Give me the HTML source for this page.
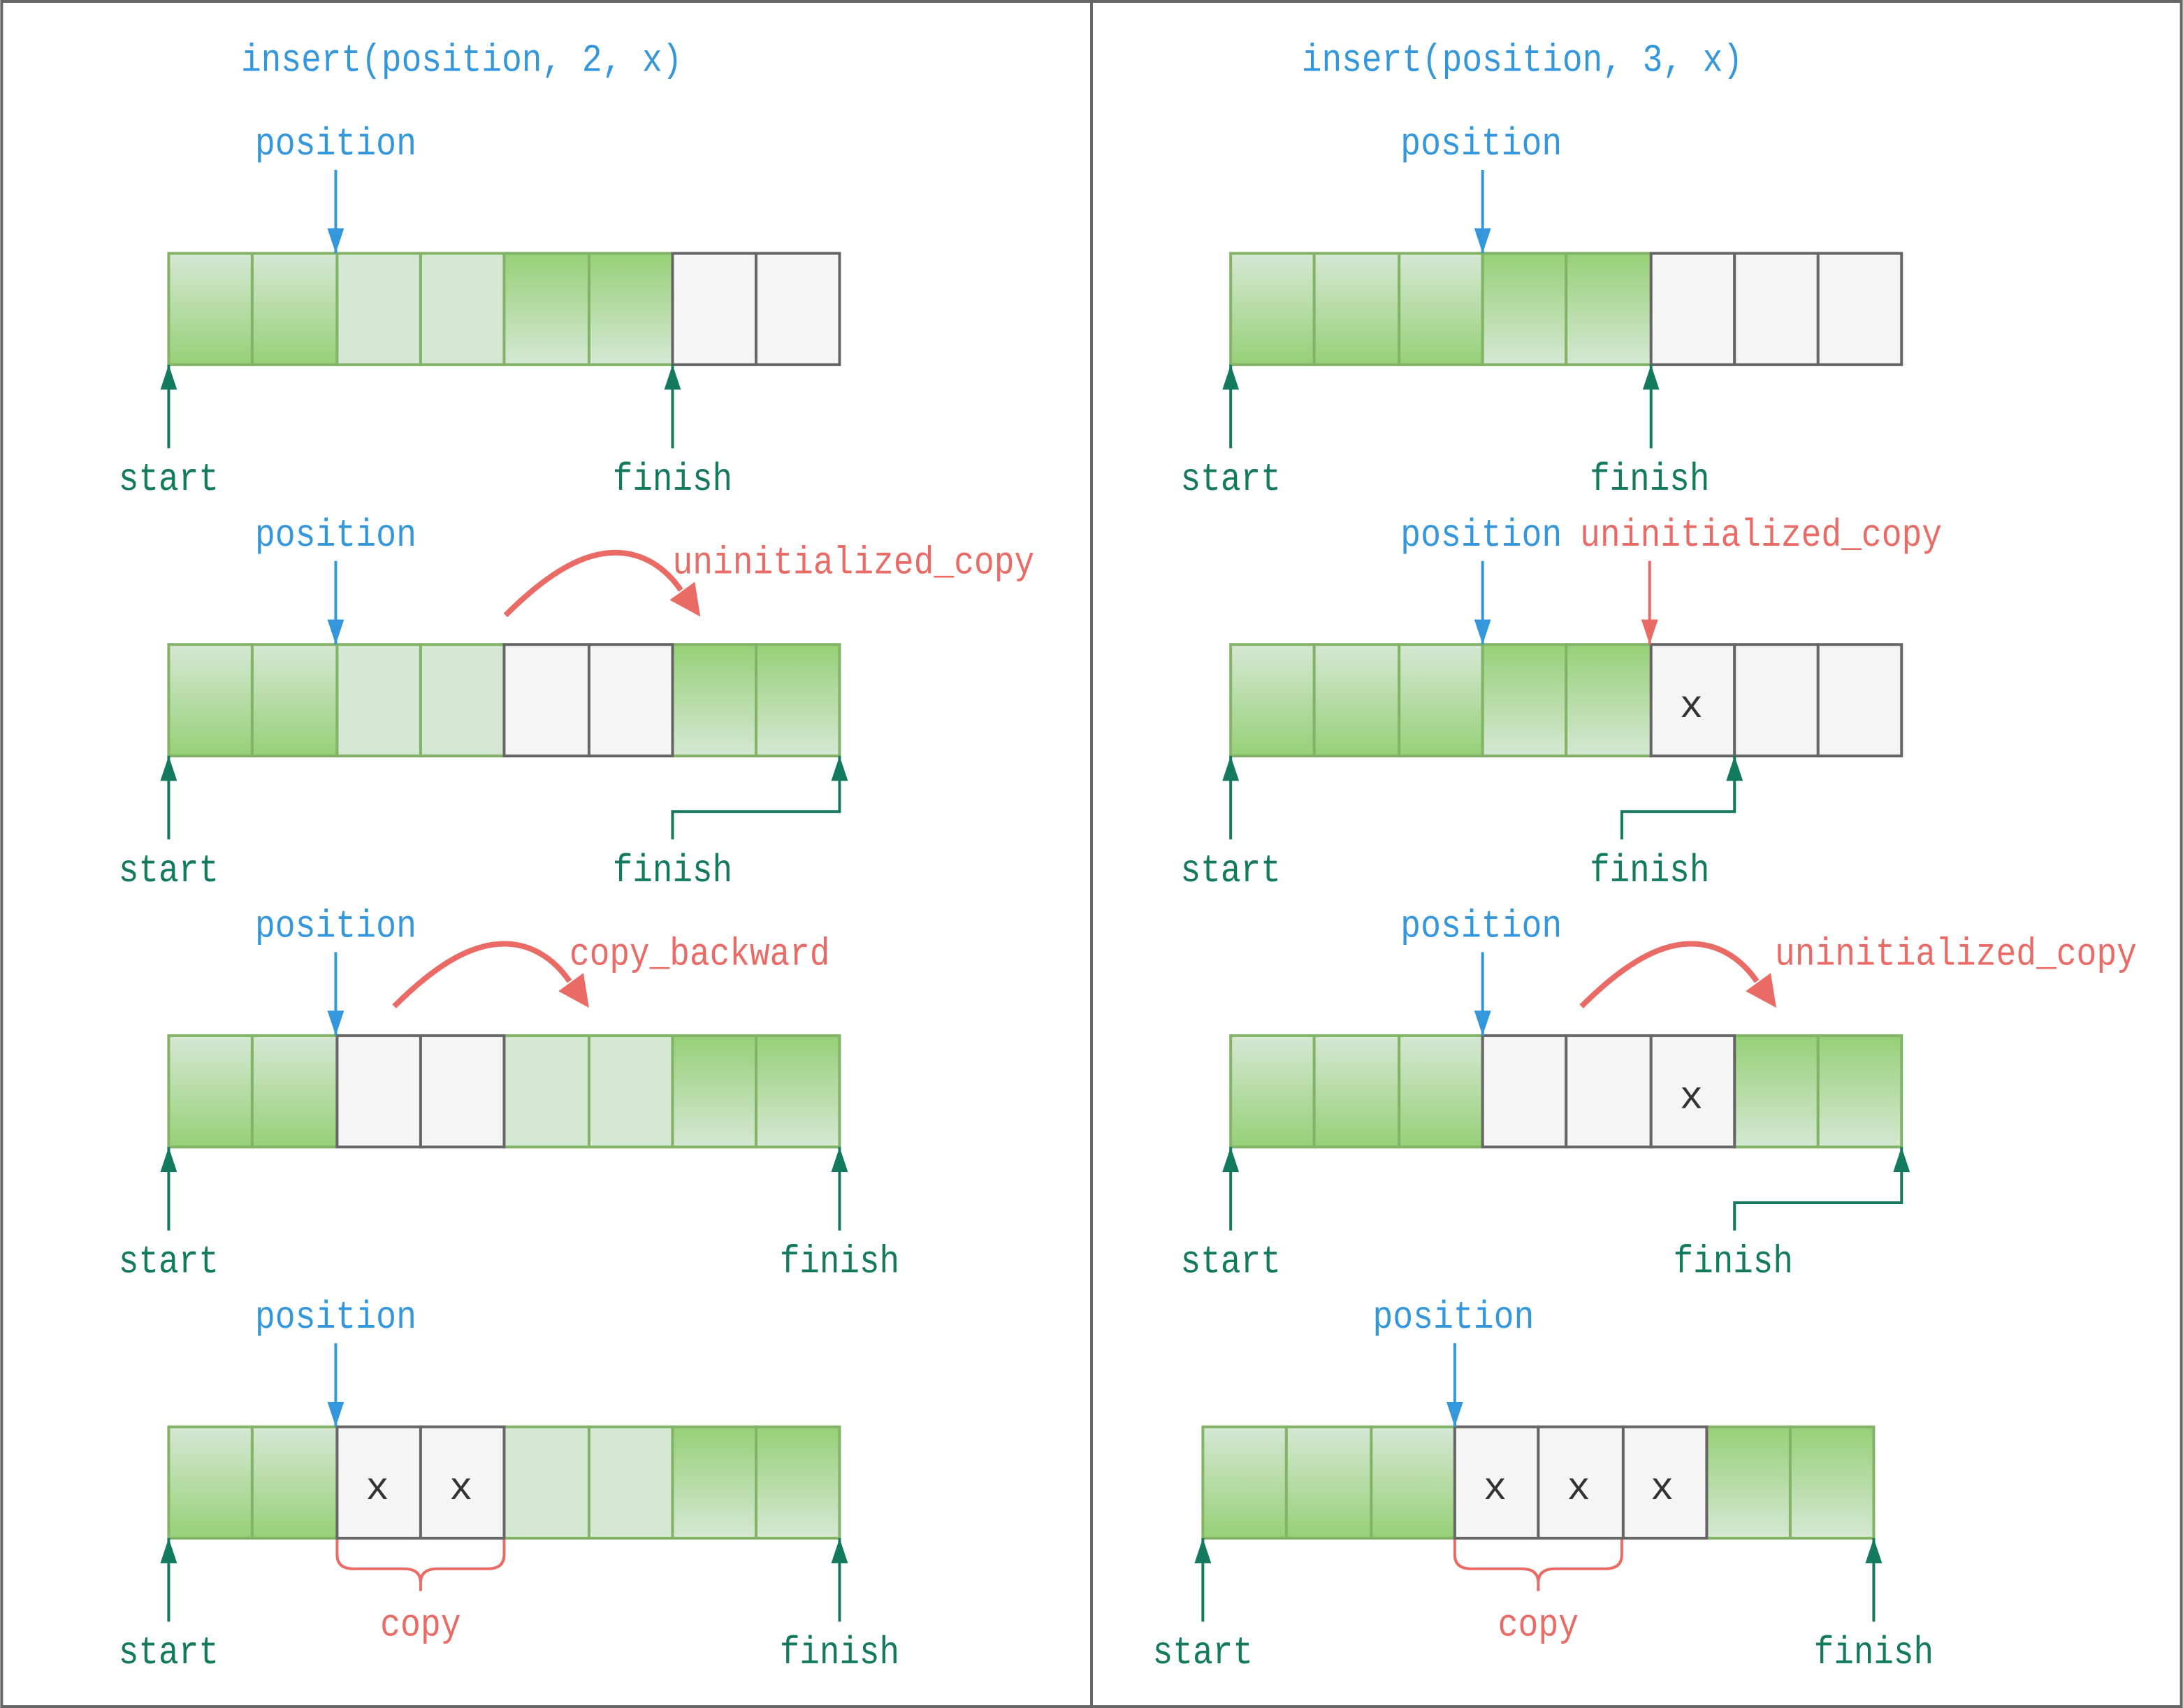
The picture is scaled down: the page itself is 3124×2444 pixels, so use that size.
<!DOCTYPE html>
<html><head><meta charset="utf-8"><style>
html,body{margin:0;padding:0;background:#fff}
svg{display:block}
text{font-family:"Liberation Mono",monospace;font-size:28px}
.b{fill:#3597db}.g{fill:#137a5e}.r{fill:#ea6b66}.k{fill:#333;font-size:28px}
</style></head><body>
<svg width="3124" height="2444" viewBox="0 0 1568 1227" xmlns="http://www.w3.org/2000/svg">
<defs>
<linearGradient id="up" x1="0" y1="0" x2="0" y2="1"><stop offset="0" stop-color="#d5e8d4"/><stop offset="1" stop-color="#97d077"/></linearGradient>
<linearGradient id="dn" x1="0" y1="0" x2="0" y2="1"><stop offset="0" stop-color="#97d077"/><stop offset="1" stop-color="#d5e8d4"/></linearGradient>
<marker id="mb" markerUnits="userSpaceOnUse" markerWidth="12" markerHeight="18" refX="6" refY="18" viewBox="0 0 12 18" orient="0"><path d="M0,0 L12,0 L6,18 Z" fill="#3597db"/></marker>
<marker id="mg" markerUnits="userSpaceOnUse" markerWidth="12" markerHeight="18" refX="6" refY="0" viewBox="0 0 12 18" orient="0"><path d="M6,0 L12,18 L0,18 Z" fill="#137a5e"/></marker>
<marker id="mr" markerUnits="userSpaceOnUse" markerWidth="12" markerHeight="18" refX="6" refY="18" viewBox="0 0 12 18" orient="0"><path d="M0,0 L12,0 L6,18 Z" fill="#ea6b66"/></marker>
</defs>
<rect x="1" y="1" width="1566" height="1225" fill="#fff" stroke="#666" stroke-width="2"/>
<line x1="784" y1="1" x2="784" y2="1226" stroke="#666" stroke-width="2"/>

<text class="b" x="173" y="51" textLength="317" lengthAdjust="spacingAndGlyphs">insert(position, 2, x)</text>
<text class="b" x="935" y="51" textLength="317" lengthAdjust="spacingAndGlyphs">insert(position, 3, x)</text>

<g stroke-width="2">
<g stroke="#82b366">
<rect x="121" y="182" width="60" height="80" fill="url(#up)"/><rect x="181" y="182" width="61" height="80" fill="url(#up)"/>
<rect x="242" y="182" width="60" height="80" fill="#d5e8d4"/><rect x="302" y="182" width="60" height="80" fill="#d5e8d4"/>
<rect x="362" y="182" width="61" height="80" fill="url(#dn)"/><rect x="423" y="182" width="60" height="80" fill="url(#dn)"/>
</g><g stroke="#666" fill="#f5f5f5"><rect x="483" y="182" width="60" height="80"/><rect x="543" y="182" width="60" height="80"/></g>
<g stroke="#82b366">
<rect x="121" y="463" width="60" height="80" fill="url(#up)"/><rect x="181" y="463" width="61" height="80" fill="url(#up)"/>
<rect x="242" y="463" width="60" height="80" fill="#d5e8d4"/><rect x="302" y="463" width="60" height="80" fill="#d5e8d4"/>
<rect x="483" y="463" width="60" height="80" fill="url(#dn)"/><rect x="543" y="463" width="60" height="80" fill="url(#dn)"/>
</g><g stroke="#666" fill="#f5f5f5"><rect x="362" y="463" width="61" height="80"/><rect x="423" y="463" width="60" height="80"/></g>
<g stroke="#82b366">
<rect x="121" y="744" width="60" height="80" fill="url(#up)"/><rect x="181" y="744" width="61" height="80" fill="url(#up)"/>
<rect x="362" y="744" width="61" height="80" fill="#d5e8d4"/><rect x="423" y="744" width="60" height="80" fill="#d5e8d4"/>
<rect x="483" y="744" width="60" height="80" fill="url(#dn)"/><rect x="543" y="744" width="60" height="80" fill="url(#dn)"/>
</g><g stroke="#666" fill="#f5f5f5"><rect x="242" y="744" width="60" height="80"/><rect x="302" y="744" width="60" height="80"/></g>
<g stroke="#82b366">
<rect x="121" y="1025" width="60" height="80" fill="url(#up)"/><rect x="181" y="1025" width="61" height="80" fill="url(#up)"/>
<rect x="362" y="1025" width="61" height="80" fill="#d5e8d4"/><rect x="423" y="1025" width="60" height="80" fill="#d5e8d4"/>
<rect x="483" y="1025" width="60" height="80" fill="url(#dn)"/><rect x="543" y="1025" width="60" height="80" fill="url(#dn)"/>
</g><g stroke="#666" fill="#f5f5f5"><rect x="242" y="1025" width="60" height="80"/><rect x="302" y="1025" width="60" height="80"/></g>

<g stroke="#82b366">
<rect x="884" y="182" width="60" height="80" fill="url(#up)"/><rect x="944" y="182" width="61" height="80" fill="url(#up)"/><rect x="1005" y="182" width="60" height="80" fill="url(#up)"/>
<rect x="1065" y="182" width="60" height="80" fill="url(#dn)"/><rect x="1125" y="182" width="61" height="80" fill="url(#dn)"/>
</g><g stroke="#666" fill="#f5f5f5"><rect x="1186" y="182" width="60" height="80"/><rect x="1246" y="182" width="60" height="80"/><rect x="1306" y="182" width="60" height="80"/></g>
<g stroke="#82b366">
<rect x="884" y="463" width="60" height="80" fill="url(#up)"/><rect x="944" y="463" width="61" height="80" fill="url(#up)"/><rect x="1005" y="463" width="60" height="80" fill="url(#up)"/>
<rect x="1065" y="463" width="60" height="80" fill="url(#dn)"/><rect x="1125" y="463" width="61" height="80" fill="url(#dn)"/>
</g><g stroke="#666" fill="#f5f5f5"><rect x="1186" y="463" width="60" height="80"/><rect x="1246" y="463" width="60" height="80"/><rect x="1306" y="463" width="60" height="80"/></g>
<g stroke="#82b366">
<rect x="884" y="744" width="60" height="80" fill="url(#up)"/><rect x="944" y="744" width="61" height="80" fill="url(#up)"/><rect x="1005" y="744" width="60" height="80" fill="url(#up)"/>
<rect x="1246" y="744" width="60" height="80" fill="url(#dn)"/><rect x="1306" y="744" width="60" height="80" fill="url(#dn)"/>
</g><g stroke="#666" fill="#f5f5f5"><rect x="1065" y="744" width="60" height="80"/><rect x="1125" y="744" width="61" height="80"/><rect x="1186" y="744" width="60" height="80"/></g>
<g stroke="#82b366">
<rect x="864" y="1025" width="60" height="80" fill="url(#up)"/><rect x="924" y="1025" width="61" height="80" fill="url(#up)"/><rect x="985" y="1025" width="60" height="80" fill="url(#up)"/>
<rect x="1226" y="1025" width="60" height="80" fill="url(#dn)"/><rect x="1286" y="1025" width="60" height="80" fill="url(#dn)"/>
</g><g stroke="#666" fill="#f5f5f5"><rect x="1045" y="1025" width="60" height="80"/><rect x="1105" y="1025" width="61" height="80"/><rect x="1166" y="1025" width="60" height="80"/></g>
</g>

<g text-anchor="middle">
<text class="k" x="271" y="1077">x</text><text class="k" x="331" y="1077">x</text>
<text class="k" x="1215" y="515">x</text>
<text class="k" x="1215" y="796">x</text>
<text class="k" x="1074" y="1077">x</text><text class="k" x="1134" y="1077">x</text><text class="k" x="1194" y="1077">x</text>
</g>

<g>
<text class="b" x="183" y="111" textLength="116" lengthAdjust="spacingAndGlyphs">position</text>
<text class="b" x="183" y="392" textLength="116" lengthAdjust="spacingAndGlyphs">position</text>
<text class="b" x="183" y="673" textLength="116" lengthAdjust="spacingAndGlyphs">position</text>
<text class="b" x="183" y="954" textLength="116" lengthAdjust="spacingAndGlyphs">position</text>
<text class="b" x="1006" y="111" textLength="116" lengthAdjust="spacingAndGlyphs">position</text>
<text class="b" x="1006" y="392" textLength="116" lengthAdjust="spacingAndGlyphs">position</text>
<text class="b" x="1006" y="673" textLength="116" lengthAdjust="spacingAndGlyphs">position</text>
<text class="b" x="986" y="954" textLength="116" lengthAdjust="spacingAndGlyphs">position</text>
</g>
<g stroke="#3597db" stroke-width="2" marker-end="url(#mb)">
<line x1="241" y1="122" x2="241" y2="182"/>
<line x1="241" y1="403" x2="241" y2="463"/>
<line x1="241" y1="684" x2="241" y2="744"/>
<line x1="241" y1="965" x2="241" y2="1025"/>
<line x1="1065" y1="122" x2="1065" y2="182"/>
<line x1="1065" y1="403" x2="1065" y2="463"/>
<line x1="1065" y1="684" x2="1065" y2="744"/>
<line x1="1045" y1="965" x2="1045" y2="1025"/>
</g>

<g>
<text class="g" x="85" y="352" textLength="72" lengthAdjust="spacingAndGlyphs">start</text><text class="g" x="440" y="352" textLength="86" lengthAdjust="spacingAndGlyphs">finish</text>
<text class="g" x="85" y="633" textLength="72" lengthAdjust="spacingAndGlyphs">start</text><text class="g" x="440" y="633" textLength="86" lengthAdjust="spacingAndGlyphs">finish</text>
<text class="g" x="85" y="914" textLength="72" lengthAdjust="spacingAndGlyphs">start</text><text class="g" x="560" y="914" textLength="86" lengthAdjust="spacingAndGlyphs">finish</text>
<text class="g" x="85" y="1195" textLength="72" lengthAdjust="spacingAndGlyphs">start</text><text class="g" x="560" y="1195" textLength="86" lengthAdjust="spacingAndGlyphs">finish</text>
<text class="g" x="848" y="352" textLength="72" lengthAdjust="spacingAndGlyphs">start</text><text class="g" x="1142" y="352" textLength="86" lengthAdjust="spacingAndGlyphs">finish</text>
<text class="g" x="848" y="633" textLength="72" lengthAdjust="spacingAndGlyphs">start</text><text class="g" x="1142" y="633" textLength="86" lengthAdjust="spacingAndGlyphs">finish</text>
<text class="g" x="848" y="914" textLength="72" lengthAdjust="spacingAndGlyphs">start</text><text class="g" x="1202" y="914" textLength="86" lengthAdjust="spacingAndGlyphs">finish</text>
<text class="g" x="828" y="1195" textLength="72" lengthAdjust="spacingAndGlyphs">start</text><text class="g" x="1303" y="1195" textLength="86" lengthAdjust="spacingAndGlyphs">finish</text>
</g>
<g stroke="#137a5e" stroke-width="2" fill="none" marker-end="url(#mg)">
<path d="M121,322 V262"/><path d="M483,322 V262"/>
<path d="M121,603 V543"/><path d="M483,603 V583 H603 V543"/>
<path d="M121,884 V824"/><path d="M603,884 V824"/>
<path d="M121,1165 V1105"/><path d="M603,1165 V1105"/>
<path d="M884,322 V262"/><path d="M1186,322 V262"/>
<path d="M884,603 V543"/><path d="M1165,603 V583 H1246 V543"/>
<path d="M884,884 V824"/><path d="M1246,884 V864 H1366 V824"/>
<path d="M864,1165 V1105"/><path d="M1346,1165 V1105"/>
</g>

<text class="r" x="483" y="412" textLength="260" lengthAdjust="spacingAndGlyphs">uninitialized_copy</text>
<text class="r" x="409" y="693" textLength="187" lengthAdjust="spacingAndGlyphs">copy_backward</text>
<text class="r" x="1135" y="392" textLength="260" lengthAdjust="spacingAndGlyphs">uninitialized_copy</text>
<text class="r" x="1275" y="693" textLength="260" lengthAdjust="spacingAndGlyphs">uninitialized_copy</text>
<text class="r" x="273" y="1175" textLength="58" lengthAdjust="spacingAndGlyphs">copy</text>
<text class="r" x="1076" y="1175" textLength="58" lengthAdjust="spacingAndGlyphs">copy</text>
<line x1="1185" y1="403" x2="1185" y2="463" stroke="#ea6b66" stroke-width="2" marker-end="url(#mr)"/>

<g fill="none" stroke="#ea6b66" stroke-width="4">
<path d="M363,442 C395,410 420,397 442,397 C462,397 478,408 489,424"/>
<path d="M283,723 C315,691 340,678 362,678 C382,678 398,689 409,705"/>
<path d="M1136,723 C1168,691 1193,678 1215,678 C1235,678 1251,689 1262,705"/>
</g>
<g fill="#ea6b66">
<polygon points="481,431 499,418 503,443"/>
<polygon points="401,712 419,699 423,724"/>
<polygon points="1254,712 1272,699 1276,724"/>
</g>

<g fill="none" stroke="#ea6b66" stroke-width="2">
<path d="M242,1106 V1117 Q242,1127 254,1127 H290 Q302,1127 302,1137 V1143 M302,1137 Q302,1127 314,1127 H350 Q362,1127 362,1117 V1106"/>
<path d="M1045,1106 V1117 Q1045,1127 1057,1127 H1093 Q1105,1127 1105,1137 V1143 M1105,1137 Q1105,1127 1117,1127 H1153 Q1165,1127 1165,1117 V1106"/>
</g>
</svg>
</body></html>
